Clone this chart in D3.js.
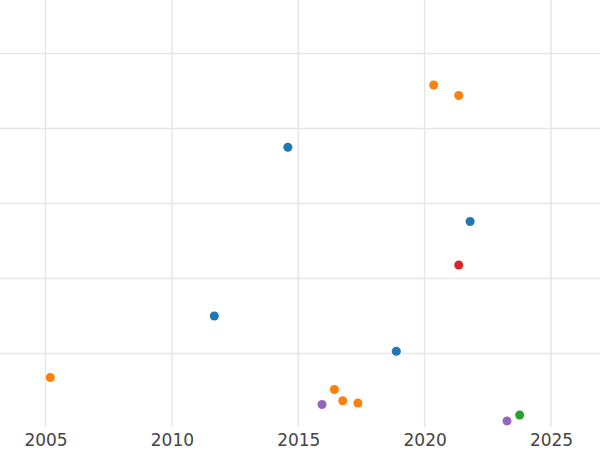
<!DOCTYPE html>
<html>
<head>
<meta charset="utf-8">
<script src="https://cdn.jsdelivr.net/npm/d3@7"></script>
<style>
  html, body { margin: 0; padding: 0; background: #fff; }
  svg { display: block; }
</style>
</head>
<body>
<div id="chart"></div>
<script>
// ---- data ----
const seriesNames = ["A", "B", "C", "D", "E"];
const seriesColors = ["#1f77b4", "#ff7f0e", "#2ca02c", "#d62728", "#9467bd"];

const seriesA_x = [2014.59, 2021.80, 2011.68, 2018.88];
const seriesA_y = [3.75, 2.76, 1.50, 1.03];

const seriesB_x = [2020.36, 2021.35, 2005.19, 2016.43, 2016.76, 2017.36];
const seriesB_y = [4.58, 4.44, 0.68, 0.52, 0.37, 0.34];

const seriesC_x = [2023.76];
const seriesC_y = [0.18];

const seriesD_x = [2021.35];
const seriesD_y = [2.18];

const seriesE_x = [2015.94, 2023.26];
const seriesE_y = [0.32, 0.10];

const xTicks = [2005, 2010, 2015, 2020, 2025];
const yTicks = [1, 2, 3, 4, 5];

// ---- layout ----
const W = 600, H = 450;
const plotBottom = 428.5;

const allSeries = [
  {name: seriesNames[0], color: seriesColors[0], xs: seriesA_x, ys: seriesA_y},
  {name: seriesNames[1], color: seriesColors[1], xs: seriesB_x, ys: seriesB_y},
  {name: seriesNames[2], color: seriesColors[2], xs: seriesC_x, ys: seriesC_y},
  {name: seriesNames[3], color: seriesColors[3], xs: seriesD_x, ys: seriesD_y},
  {name: seriesNames[4], color: seriesColors[4], xs: seriesE_x, ys: seriesE_y}
];

const x = d3.scaleLinear().domain([2005, 2025]).range([45.5, 551]);
const y = d3.scaleLinear().domain([0, 5]).range([plotBottom, 53.5]);

const svg = d3.select("#chart").append("svg")
  .attr("width", W).attr("height", H);

// horizontal gridlines
svg.append("g").selectAll("line").data(yTicks).join("line")
  .attr("x1", 0).attr("x2", W)
  .attr("y1", d => y(d)).attr("y2", d => y(d))
  .attr("stroke", "#e6e6e6").attr("stroke-width", 1.5);

// vertical gridlines
svg.append("g").selectAll("line").data(xTicks).join("line")
  .attr("x1", d => x(d)).attr("x2", d => x(d))
  .attr("y1", 0).attr("y2", 427)
  .attr("stroke", "#e6e6e6").attr("stroke-width", 1.5);

// x axis labels
const xAxis = d3.axisBottom(x).tickValues(xTicks).tickFormat(d3.format("d")).tickSize(0).tickPadding(0);
const gx = svg.append("g").attr("transform", `translate(0,${434})`).call(xAxis);
gx.select(".domain").remove();
gx.selectAll("text")
  .attr("dy", "0.71em")
  .attr("font-family", "DejaVu Sans, sans-serif")
  .attr("font-size", 17)
  .attr("fill", "#444");

// points
allSeries.forEach(s => {
  const pts = s.xs.map((v, i) => ({x: v, y: s.ys[i]}));
  svg.append("g").selectAll("circle").data(pts).join("circle")
    .attr("cx", d => x(d.x))
    .attr("cy", d => y(d.y))
    .attr("r", 4.5)
    .attr("fill", s.color);
});
</script>
</body>
</html>
